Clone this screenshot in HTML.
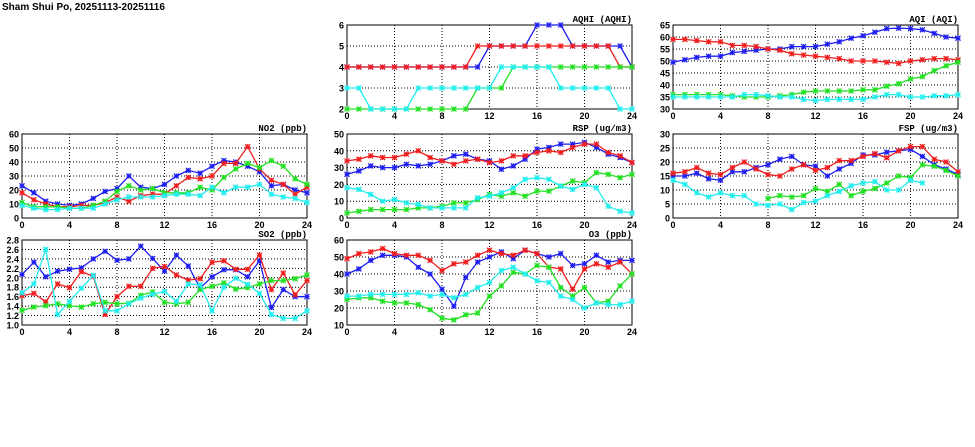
<!DOCTYPE html>
<html><head><meta charset="utf-8">
<style>
html,body{margin:0;padding:0;background:#fff;}
svg{display:block;font-family:"Liberation Sans",sans-serif;font-weight:bold;}
</style></head>
<body>
<svg id="c" width="975" height="447" viewBox="0 0 975 447">
<text x="2" y="10" font-size="10">Sham Shui Po, 20251113-20251116</text>
</svg>
<script>
const hours = [0,1,2,3,4,5,6,7,8,9,10,11,12,13,14,15,16,17,18,19,20,21,22,23,24];
const xTicks = [0,4,8,12,16,20,24];
const colors = ['#1e1ef0','#f01e1e','#22e022','#22eeee'];

const no2Blue = [23,18,12,10,9,10,14,19,21,30,22,21,24,30,34,32,37,41,40,37,33,23,24,20,18];
const no2Red = [18,13,10,8,8,9,9,11,15,12,16,17,17,23,29,28,30,39,39,51,35,27,24,17,22];
const no2Green = [11,8,8,8,7,7,9,12,19,23,20,21,18,18,18,22,20,29,35,39,36,41,37,28,24];
const no2Cyan = [9,7,6,6,7,7,7,10,13,15,15,15,16,17,17,16,22,18,22,22,24,17,15,14,11];
const no2Ticks = [0,10,20,30,40,50,60];

const so2Blue = [2.07,2.33,2.02,2.14,2.18,2.21,2.4,2.56,2.37,2.4,2.67,2.41,2.14,2.48,2.25,1.78,2.02,2.17,2.17,2.02,2.36,1.37,1.75,1.6,1.6];
const so2Red = [1.62,1.67,1.49,1.87,1.79,2.13,2.03,1.22,1.6,1.82,1.82,2.2,2.24,2.06,1.95,1.98,2.33,2.36,2.18,2.18,2.48,1.75,2.1,1.64,1.94];
const so2Green = [1.31,1.38,1.41,1.45,1.41,1.38,1.45,1.48,1.45,1.46,1.63,1.7,1.48,1.45,1.48,1.75,1.82,1.89,1.76,1.79,1.87,1.94,1.94,1.98,2.06];
const so2Cyan = [1.68,1.87,2.6,1.22,1.5,1.78,2.05,1.3,1.3,1.45,1.57,1.65,1.71,1.5,1.87,1.85,1.3,1.8,1.99,1.86,1.67,1.22,1.14,1.14,1.3];
const so2Ticks = [1.0,1.2,1.4,1.6,1.8,2.0,2.2,2.4,2.6,2.8];

const aqhiBlue = [4,4,4,4,4,4,4,4,4,4,4,4,5,5,5,5,6,6,6,5,5,5,5,5,4];
const aqhiRed = [4,4,4,4,4,4,4,4,4,4,4,5,5,5,5,5,5,5,5,5,5,5,5,4,4];
const aqhiGreen = [2,2,2,2,2,2,2,2,2,2,2,3,3,3,4,4,4,4,4,4,4,4,4,4,4];
const aqhiCyan = [3,3,2,2,2,2,3,3,3,3,3,3,3,4,4,4,4,4,3,3,3,3,3,2,2];
const aqhiTicks = [2,3,4,5,6];

const rspBlue = [26,28,31,30,30,32,31,32,34,37,38,35,34,29,31,35,41,42,44,44,45,42,38,36,33];
const rspRed = [34,35,37,36,36,38,40,36,34,32,34,35,33,34,37,37,39,40,39,42,44,44,39,37,33];
const rspGreen = [3,4,5,5,5,5,6,6,7,9,9,11,14,13,15,13,16,16,19,22,21,27,26,24,26];
const rspCyan = [18,17,14,10,11,9,8,6,6,6,6,12,13,15,18,23,24,23,19,17,20,18,7,4,3];
const rspTicks = [0,10,20,30,40,50];

const o3Blue = [40,43,48,51,51,50,44,40,31,21,38,47,50,53,49,54,52,50,52,45,46,51,47,48,48];
const o3Red = [49,52,53,55,52,51,51,48,42,46,47,51,54,52,51,54,52,44,43,31,43,46,44,47,40];
const o3Green = [25,26,26,24,23,23,22,19,14,13,16,17,27,33,41,40,45,44,32,27,32,23,24,33,40];
const o3Cyan = [27,27,28,28,28,28,29,27,28,26,28,32,35,42,44,40,36,35,27,25,20,23,22,22,24];
const o3Ticks = [10,20,30,40,50,60];

const aqiBlue = [49.5,50.5,51.5,52,52,53.5,54,54.5,55,55,56,56,56,57,58,59.5,60.5,62,63.5,63.7,63.5,63,61.5,60,59.5];
const aqiRed = [59,59,58.5,58,58,56.5,56.5,56,55,54.5,53,52.5,52,51.5,51,50,50,50,49.5,49,50,50.5,51,51,50.5];
const aqiGreen = [36,36,36,36,36,35.5,35,35,35,35.5,36,37,37.5,37.5,37.5,37.5,38,38,39.5,40.5,42.5,43.5,46,48,49.5];
const aqiCyan = [35,35,35,35,35,35,36,36,35.5,35,35,34,33.5,34,34,34,34,35,36,36,35,35,35.5,35.5,36];
const aqiTicks = [30,35,40,45,50,55,60,65];

const fspBlue = [15,15,16,14,13.5,16.5,16.5,18,19,21,22,19,18.5,15,17.5,19.5,22.5,22.5,23.5,24,24.5,22,19,17.5,15.5];
const fspRed = [16,16.5,18,16,15.5,18,20,17.5,15.5,15,17.5,19,17,18,20.5,20.5,22,23,21.5,24,25.5,25.5,21,20,16.5];
const fspGreen = [null,null,null,null,null,null,null,null,7,8,7.5,8,10.5,9.5,12,8,9.5,10.5,12.5,15,14.5,19,18.5,17,15];
const fspCyan = [13.5,12,9,7.5,9,8,8,5,4.5,5,3,5.5,6,8,9.5,11.5,12.5,13,10,10,13.5,12.5,null,null,null];
const fspTicks = [0,5,10,15,20,25,30];

const NS='http://www.w3.org/2000/svg';
const svg=document.getElementById('c');
function mk(tag,attrs,parent){const e=document.createElementNS(NS,tag);for(const k in attrs)e.setAttribute(k,attrs[k]);(parent||svg).appendChild(e);return e;}

function panel(key,title,x0,x1,y0,y1,ticks,series){
  const g=mk('g',{});
  
  
  const ymin=ticks[0],ymax=ticks[ticks.length-1];
  const X=v=>x0+(v-0)/24*(x1-x0);
  const Y=v=>y1-(v-ymin)/(ymax-ymin)*(y1-y0);
  // grid
  ticks.forEach((t,i)=>{
    if(i>0&&i<ticks.length-1){const l=mk('line',{x1:x0,x2:x1,y1:Y(t),y2:Y(t),stroke:'#000','stroke-width':1,'stroke-dasharray':'1,2'},g);
      
      }
    const tx=mk('text',{x:x0-3,y:Y(t)+3.5,'font-size':9,'text-anchor':'end'},g);
    
    
    tx.textContent=(ymax<5&&ymin<5&&ticks[1]%1!==0)?t.toFixed(1):t;
  });
  xTicks.forEach((t,i)=>{
    if(i>0&&i<xTicks.length-1){const l=mk('line',{x1:X(t),x2:X(t),y1:y0,y2:y1,stroke:'#000','stroke-width':1,'stroke-dasharray':'1,2'},g);
      
      }
    const tx=mk('text',{x:X(t),y:y1+10,'font-size':9,'text-anchor':'middle'},g);
    
    
    tx.textContent=t;
  });
  const fr=mk('rect',{x:x0,y:y0,width:x1-x0,height:y1-y0,fill:'none',stroke:'#000','stroke-width':1},g);
  
  
  const tt=mk('text',{x:x1,y:y0-3,'font-size':9,'text-anchor':'end','font-family':'Liberation Mono, monospace'},g);
  
  
  tt.textContent=title;
  const names=['blue','red','green','cyan'];
  series.forEach((vals,si)=>{
    const c=colors[si];
    let d='',pen=false;
    vals.forEach((v,i)=>{ if(v===null){pen=false;return;} d+=(pen?'L':'M')+X(hours[i]).toFixed(1)+','+Y(v).toFixed(1); pen=true;});
    const p=mk('path',{d:d,fill:'none',stroke:c,'stroke-width':1.3},g);
    
    
    vals.forEach((v,i)=>{
      if(v===null)return;
      const cx=X(hours[i]),cy=Y(v),s=2.5;
      const m=mk('path',{d:`M${cx-s},${cy-s}L${cx+s},${cy+s}M${cx-s},${cy+s}L${cx+s},${cy-s}M${cx-s},${cy}L${cx+s},${cy}M${cx},${cy-s}L${cx},${cy+s}`,stroke:c,'stroke-width':1.2,fill:'none'},g);
      
      
    });
  });
}
panel('aqhi','AQHI (AQHI)',347,632,25,109,aqhiTicks,[aqhiBlue,aqhiRed,aqhiGreen,aqhiCyan]);
panel('aqi','AQI (AQI)',673,958,25,109,aqiTicks,[aqiBlue,aqiRed,aqiGreen,aqiCyan]);
panel('no2','NO2 (ppb)',22,307,134,218,no2Ticks,[no2Blue,no2Red,no2Green,no2Cyan]);
panel('rsp','RSP (ug/m3)',347,632,134,218,rspTicks,[rspBlue,rspRed,rspGreen,rspCyan]);
panel('fsp','FSP (ug/m3)',673,958,134,218,fspTicks,[fspBlue,fspRed,fspGreen,fspCyan]);
panel('so2','SO2 (ppb)',22,307,240,325,so2Ticks,[so2Blue,so2Red,so2Green,so2Cyan]);
panel('o3','O3 (ppb)',347,632,240,325,o3Ticks,[o3Blue,o3Red,o3Green,o3Cyan]);
</script>
</body></html>
